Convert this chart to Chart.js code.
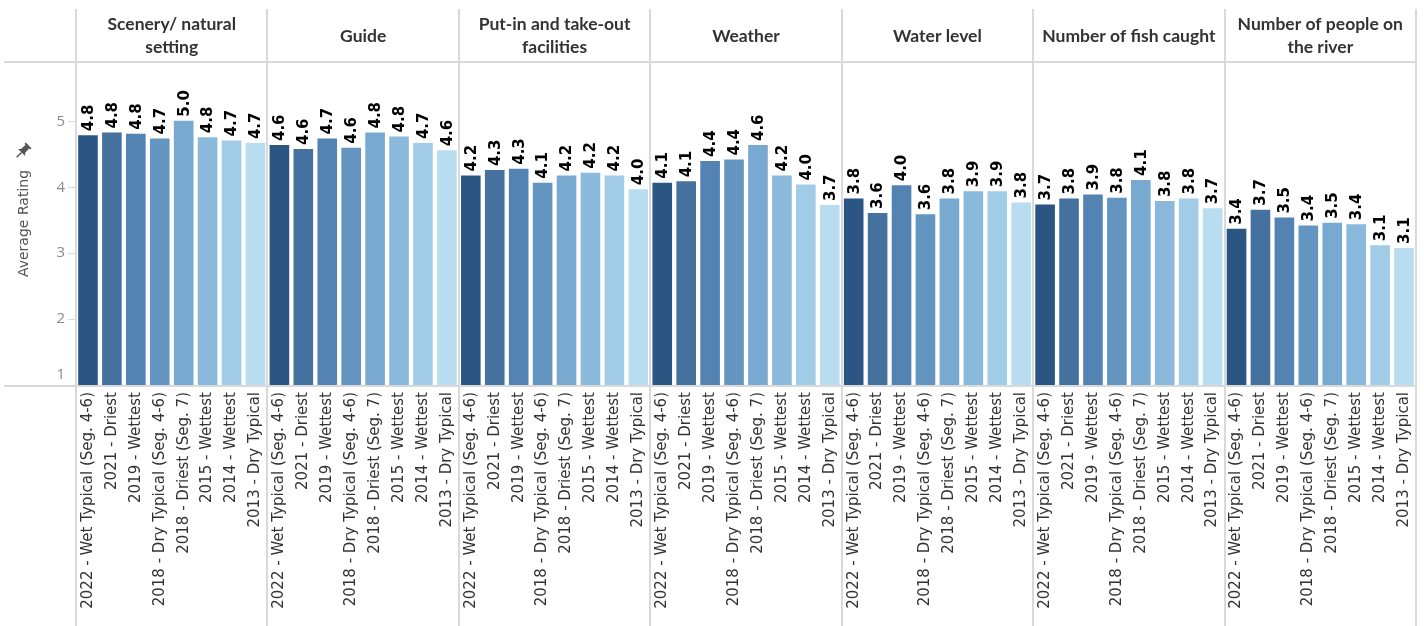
<!DOCTYPE html>
<html><head><meta charset="utf-8">
<script src="https://cdn.jsdelivr.net/npm/chart.js@4.4.1/dist/chart.umd.min.js"></script>
<style>html,body{margin:0;padding:0;background:#fff;}#wrap{position:relative;width:1424px;height:626px;}</style>
</head><body><div id="wrap"><canvas id="c"></canvas></div>
<script>
const aspects = ["Scenery/ natural setting", "Guide", "Put-in and take-out facilities", "Weather", "Water level", "Number of fish caught", "Number of people on the river"];
const aspectHeaderLines = [["Scenery/ natural", "setting"], ["Guide"], ["Put-in and take-out", "facilities"], ["Weather"], ["Water level"], ["Number of fish caught"], ["Number of people on", "the river"]];
const categories = ["2022 - Wet Typical (Seg. 4-6)", "2021 - Driest", "2019 - Wettest", "2018 - Dry Typical (Seg. 4-6)", "2018 - Driest (Seg. 7)", "2015 - Wettest", "2014 - Wettest", "2013 - Dry Typical"];
const scenery    = [4.79, 4.83, 4.81, 4.74, 5.01, 4.76, 4.71, 4.67];
const guide      = [4.64, 4.58, 4.74, 4.60, 4.83, 4.77, 4.67, 4.56];
const putIn      = [4.18, 4.26, 4.28, 4.07, 4.18, 4.22, 4.18, 3.97];
const weather    = [4.07, 4.09, 4.40, 4.42, 4.64, 4.18, 4.04, 3.73];
const waterLevel = [3.83, 3.61, 4.03, 3.59, 3.83, 3.94, 3.94, 3.77];
const fish       = [3.74, 3.83, 3.89, 3.84, 4.11, 3.79, 3.83, 3.68];
const people     = [3.37, 3.66, 3.54, 3.42, 3.46, 3.44, 3.12, 3.08];
const yTicks = [1, 2, 3, 4, 5];
const barColors = ["#2b5683", "#44719e", "#5383b3", "#6495c0", "#78a9d0", "#8bb9dc", "#a1cce7", "#b8ddf0"];

const seriesByAspect = [scenery, guide, putIn, weather, waterLevel, fish, people];
const labels = [], values = [], colors = [];
aspects.forEach((a, i) => {
  categories.forEach((c, j) => {
    labels.push(c);
    values.push(seriesByAspect[i][j]);
    colors.push(barColors[j]);
  });
});

const LINE = '#d9d9d9';
const facetPlugin = {
  id: 'facets',
  beforeDraw(chart) {
    const { ctx, chartArea: a } = chart;
    const n = aspects.length, w = (a.right - a.left) / n;
    ctx.save();
    ctx.strokeStyle = LINE; ctx.lineWidth = 2;
    ctx.beginPath();
    ctx.moveTo(4, a.top); ctx.lineTo(a.right, a.top);
    ctx.moveTo(4, a.bottom + 1); ctx.lineTo(a.right, a.bottom + 1);
    for (let k = 0; k <= n; k++) {
      const x = Math.round(a.left + k * w);
      ctx.moveTo(x, 9); ctx.lineTo(x, chart.height);
    }
    ctx.stroke();
    ctx.fillStyle = '#333';
    ctx.font = 'bold 17.5px Lato';
    ctx.textAlign = 'center'; ctx.textBaseline = 'middle';
    aspectHeaderLines.forEach((lines, k) => {
      const cx = a.left + (k + 0.5) * w;
      const lh = 23;
      const y0 = 36 - (lines.length - 1) * lh / 2;
      lines.forEach((t, i) => ctx.fillText(t, cx, y0 + i * lh));
    });
    // pin icon
    ctx.translate(23, 151);
    ctx.rotate(Math.PI / 4);
    ctx.fillStyle = '#555';
    ctx.beginPath();
    ctx.rect(-4, -8, 8, 2);
    ctx.moveTo(-2.5, -6); ctx.lineTo(2.5, -6); ctx.lineTo(3, 0); ctx.lineTo(5, 2); ctx.lineTo(-5, 2); ctx.lineTo(-3, 0); ctx.closePath();
    ctx.fill();
    ctx.fillRect(-0.7, 2, 1.4, 7);
    ctx.restore();
  },
  afterDatasetsDraw(chart) {
    const meta = chart.getDatasetMeta(0);
    const ctx = chart.ctx;
    ctx.save();
    ctx.font = 'bold 15px "DejaVu Sans"';
    ctx.fillStyle = '#000';
    ctx.textAlign = 'left'; ctx.textBaseline = 'middle';
    meta.data.forEach((bar, i) => {
      ctx.save();
      ctx.translate(bar.x + 1, bar.y - 4);
      ctx.rotate(-Math.PI / 2);
      ctx.fillText(values[i].toFixed(1), 0, 0);
      ctx.restore();
    });
    ctx.restore();
  }
};

new Chart(document.getElementById('c'), {
  type: 'bar',
  data: { labels, datasets: [{ data: values, backgroundColor: colors, barPercentage: 0.82, categoryPercentage: 1 }] },
  options: {
    responsive: true, maintainAspectRatio: false, animation: false,
    layout: { padding: { top: 62, right: 8, left: 0, bottom: 0 } },
    plugins: { legend: { display: false }, tooltip: { enabled: false } },
    scales: {
      x: {
        grid: { display: false, drawTicks: false }, border: { display: false },
        ticks: { autoSkip: false, maxRotation: 90, minRotation: 90, padding: 7, color: '#333', font: { family: 'DejaVu Sans', size: 15 } },
        afterFit(s) { s.height = 241; s.paddingLeft = 0; s.paddingRight = 0; }
      },
      y: {
        min: 1, max: 5.9,
        grid: { drawOnChartArea: false, tickLength: 8, color: LINE }, border: { display: false },
        afterBuildTicks(s) { s.ticks = yTicks.map(v => ({ value: v })); },
        ticks: { padding: 3, color: '#8a8a8a', font: { family: 'Open Sans', size: 15, lineHeight: 1.4 },
                 callback: (v) => v === yTicks[0] ? [String(v), ''] : String(v) },
        title: { display: true, text: 'Average Rating', color: '#555', font: { family: 'DejaVu Sans', size: 14 }, padding: { top: 16, bottom: 0 } },
        afterFit(s) { s.width = 76; s.paddingTop = 0; s.paddingBottom = 0; }
      }
    }
  },
  plugins: [facetPlugin]
});
</script></body></html>
